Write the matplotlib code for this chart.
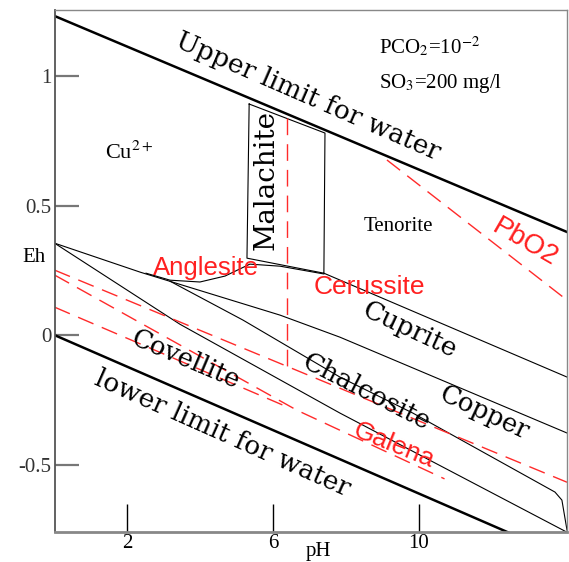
import numpy as np
import matplotlib.pyplot as plt

plt.rcParams['mathtext.fontset'] = 'stix'

# Eh-pH diagram, Cu-S-C-O-H with Pb overlay
# water stability limits
upper_ph = [0.0, 14.06]
upper_eh = [1.232, 0.398]
lower_ph = [0.0, 12.5]
lower_eh = [0.0, -0.765]

# copper phase boundaries (pH, Eh)
malachite_ph = [5.34, 7.42, 7.39, 5.28, 5.34]
malachite_eh = [0.892, 0.780, 0.239, 0.297, 0.892]
tenorite_ph = [7.39, 14.06]
tenorite_eh = [0.239, -0.162]
cu2_cuprite_ph = [2.51, 3.17, 3.99, 4.68, 5.36, 6.19, 7.39]
cu2_cuprite_eh = [0.239, 0.212, 0.205, 0.228, 0.274, 0.266, 0.236]
cuprite_copper_ph = [0.0, 2.35, 6.19, 7.83, 14.06]
cuprite_copper_eh = [0.355, 0.243, 0.077, -0.008, -0.378]
covellite_ph = [0.0, 3.44, 7.83, 14.06]
covellite_eh = [0.355, 0.042, -0.301, -0.761]
copper_chalco_ph = [3.17, 5.17, 7.83, 9.83, 13.73, 13.92, 14.06]
copper_chalco_eh = [0.208, 0.058, -0.162, -0.301, -0.606, -0.637, -0.753]

# lead boundaries (red dashed)
pb_vert_ph = [6.38, 6.38]
pb_vert_eh = [0.838, -0.135]
pbo2_ph = [9.12, 14.06]
pbo2_eh = [0.676, 0.135]
angl_ph = [0.0, 14.06]
angl_eh = [0.251, -0.568]
galena1_ph = [0.0, 6.65, 10.7]
galena1_eh = [0.232, -0.290, -0.555]
galena2_ph = [0.0, 6.46]
galena2_eh = [0.108, -0.282]

fig = plt.figure(figsize=(5.69, 5.62), dpi=100)
ax = fig.add_axes([0.0958, 0.0539, 0.9007, 0.9283])

serif = 'DejaVu Serif'
times = 'Liberation Serif'
sans = 'Liberation Sans'

ax.plot(upper_ph, upper_eh, color='black', lw=1.8)
ax.plot(lower_ph, lower_eh, color='black', lw=1.8)
for xs, ys in [(malachite_ph, malachite_eh), (tenorite_ph, tenorite_eh),
               (cu2_cuprite_ph, cu2_cuprite_eh), (cuprite_copper_ph, cuprite_copper_eh),
               (covellite_ph, covellite_eh), (copper_chalco_ph, copper_chalco_eh)]:
    ax.plot(xs, ys, color='black', lw=0.8)

for xs, ys in [(pb_vert_ph, pb_vert_eh), (pbo2_ph, pbo2_eh), (angl_ph, angl_eh),
               (galena1_ph, galena1_eh), (galena2_ph, galena2_eh)]:
    ax.plot(xs, ys, color='#ff2a2a', lw=1.0, dashes=(12, 6.5))

ax.set_xlim(0, 14.06)
ax.set_ylim(-0.759, 1.255)

ax.set_xticks([2, 6, 10])
ax.set_xticklabels(['2', '6', '10'], fontfamily=times, fontsize=15)
ax.set_yticks([-0.5, 0, 0.5, 1])
ax.set_yticklabels(['-0.5', '0', '0.5', '1'], fontfamily=times, fontsize=15, color='#333333')
ax.tick_params(axis='x', direction='in', length=20, width=1, color='black', pad=2)
ax.tick_params(axis='y', direction='in', length=17, width=1.6, color='#777777', pad=2)

for s in ['top', 'right']:
    ax.spines[s].set_color('#888888')
    ax.spines[s].set_linewidth(1.0)
ax.spines['left'].set_color('#555555')
ax.spines['left'].set_linewidth(1.3)
ax.spines['bottom'].set_color('#888888')
ax.spines['bottom'].set_linewidth(2.0)

ax.text(-0.55, 0.30, 'Eh', fontfamily=times, fontsize=15, ha='center', va='center')
ax.text(7.25, -0.834, 'pH', fontfamily=times, fontsize=15, ha='center', va='center', clip_on=False)

# region labels
ax.text(6.95, 0.92, 'Upper limit for water', fontfamily=serif, fontsize=19,
        rotation=-23.5, ha='center', va='center', rotation_mode='anchor')
ax.text(4.6, -0.38, 'lower limit for water', fontfamily=serif, fontsize=19,
        rotation=-24, ha='center', va='center', rotation_mode='anchor')
ax.text(3.6, -0.095, 'Covellite', fontfamily=serif, fontsize=18.5,
        rotation=-23, ha='center', va='center', rotation_mode='anchor')
ax.text(8.55, -0.22, 'Chalcosite', fontfamily=serif, fontsize=19,
        rotation=-27, ha='center', va='center', rotation_mode='anchor')
ax.text(9.75, 0.02, 'Cuprite', fontfamily=serif, fontsize=19,
        rotation=-25, ha='center', va='center', rotation_mode='anchor')
ax.text(11.8, -0.30, 'Copper', fontfamily=serif, fontsize=18.5,
        rotation=-25, ha='center', va='center', rotation_mode='anchor')
ax.text(5.8, 0.60, 'Malachite', fontfamily=serif, fontsize=20,
        rotation=90, ha='center', va='center')
ax.text(9.42, 0.421, 'Tenorite', fontfamily=times, fontsize=15, ha='center', va='center')
ax.text(2.05, 0.705, r'Cu$^{2+}$', fontfamily=times, fontsize=16, ha='center', va='center')
ax.text(8.9, 1.113, r'PCO$_2$=10$^{-2}$', fontfamily=times, fontsize=15, ha='left', va='center')
ax.text(8.9, 0.97, r'SO$_3$=200 mg/l', fontfamily=times, fontsize=15, ha='left', va='center')

red = '#ff2020'
ax.text(4.16, 0.259, 'Anglesite', color=red, fontfamily=sans, fontsize=18.5, ha='center', va='center')
ax.text(8.65, 0.185, 'Cerussite', color=red, fontfamily=sans, fontsize=19, ha='center', va='center')
ax.text(12.9, 0.355, 'PbO2', color=red, fontfamily=sans, fontsize=20, rotation=-30,
        ha='center', va='center', rotation_mode='anchor')
ax.text(9.3, -0.425, 'Galena', color=red, fontfamily=sans, fontsize=19, rotation=-22,
        ha='center', va='center', rotation_mode='anchor')

fig.savefig('out.png', dpi=100)
